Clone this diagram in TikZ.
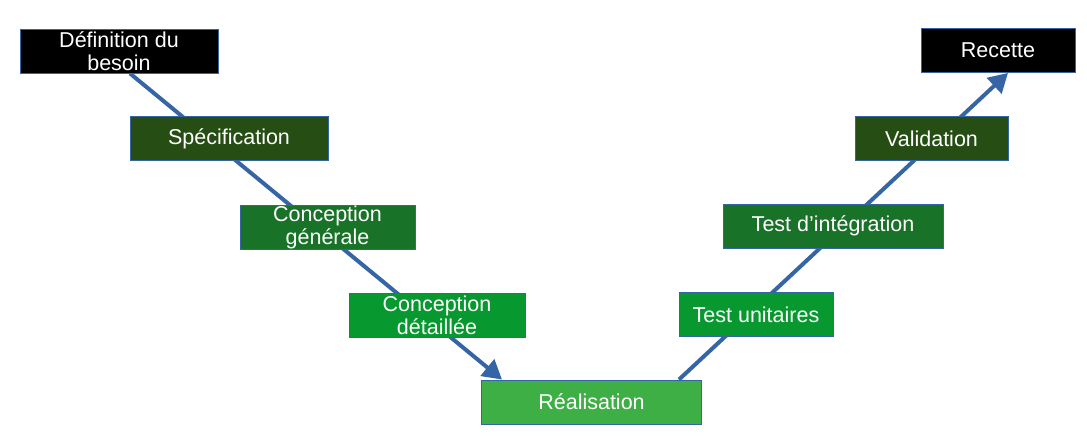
\documentclass[tikz,border=0pt]{standalone}
\usepackage{fontspec}
\setmainfont{Liberation Sans}
\usepackage{tikz}
\usetikzlibrary{arrows.meta, backgrounds}
\definecolor{vblue}{HTML}{3565A5}
\definecolor{vblack}{HTML}{000000}
\definecolor{vdark}{HTML}{264E14}
\definecolor{vmid}{HTML}{187227}
\definecolor{vlight}{HTML}{07992F}
\definecolor{vbase}{HTML}{3DAF45}
\tikzset{
    phase/.style={draw=vblue, line width=0.9pt, text=white, align=center, inner sep=0pt,
        minimum height=44pt, font=\fontsize{21.5}{23}\selectfont}, % boites du cycle en V
    vline/.style={vblue, line width=4pt, -{Triangle[length=19pt, width=21pt]}} % fleches
}

\begin{document}
\begin{tikzpicture}[x=1pt, y=-1pt]
            \useasboundingbox (0,0) rectangle (1087,442);

            % branche descendante
            \node[phase, fill=vblack, minimum width=198pt] (besoin) at (119,51) {Définition du\\besoin};
            \node[phase, fill=vdark, minimum width=198pt] (spec) at (229,138.5) {Spécification};
            \node[phase, fill=vmid, minimum width=175pt] (cgen) at (327.5,227) {Conception\\générale};
            \node[phase, fill=vlight, minimum width=176pt] (cdet) at (437,315) {Conception\\détaillée};
            \node[phase, fill=vbase, minimum width=220pt] (real) at (591.5,402) {Réalisation};

            % branche montante
            \node[phase, fill=vlight, minimum width=154pt] (tunit) at (756,314.5) {Test unitaires};
            \node[phase, fill=vmid, minimum width=220pt] (tinteg) at (833,226) {Test d’intégration};
            \node[phase, fill=vdark, minimum width=153pt] (valid) at (931.5,138.5) {Validation};
            \node[phase, fill=vblack, minimum width=154pt] (recette) at (998,50.5) {Recette};

            \begin{scope}[on background layer]
                \draw[vline] ([xshift=11pt]besoin.south) -- ([xshift=-89.5pt]real.north);
                \draw[vline] ([xshift=87.5pt]real.north) -- ([xshift=10pt]recette.south);
            \end{scope}
        \end{tikzpicture}
\end{document}
